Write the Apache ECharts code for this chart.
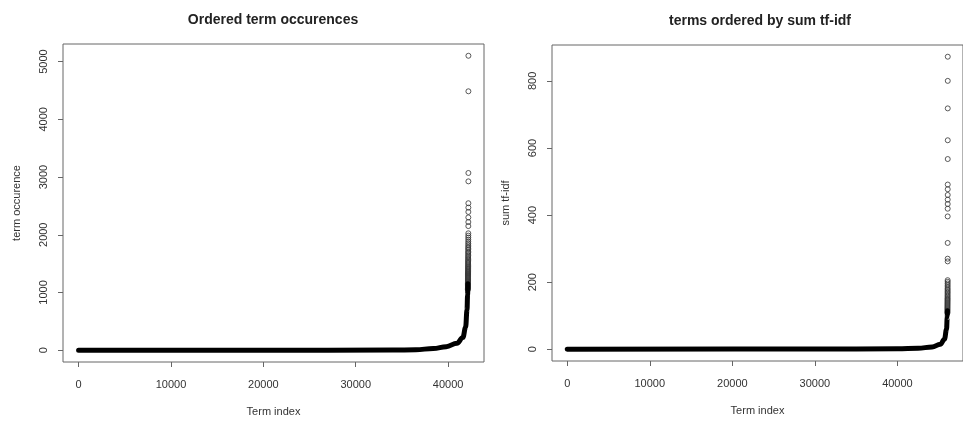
<!DOCTYPE html>
<html>
<head>
<meta charset="utf-8">
<script src="https://cdn.jsdelivr.net/npm/echarts@6/dist/echarts.min.js"></script>
<style>
html,body{margin:0;padding:0;background:#fff;}
#c{width:963px;height:423px;}
</style>
</head>
<body>
<div id="c"></div>
<script>
// ---- data ----
const leftTitle = 'Ordered term occurences';
const rightTitle = 'terms ordered by sum tf-idf';
const xTitle = 'Term index';
const leftYTitle = 'term occurence';
const rightYTitle = 'sum tf-idf';

const leftNTerms = 42200;
const rightNTerms = 46100;

const leftXTicks = [0, 10000, 20000, 30000, 40000];
const leftYTicks = [0, 1000, 2000, 3000, 4000, 5000];
const rightXTicks = [0, 10000, 20000, 30000, 40000];
const rightYTicks = [0, 200, 400, 600, 800];

// dense part of the ordered curve: [term index, value]
const leftCurve = [[1,1],[20000,1],[34000,2],[36500,8],[38400,30],[39800,62],[40970,122],[41600,220],[41900,400],[42050,700],[42110,950],[42140,1150]];
const rightCurve = [[1,0.5],[30000,1],[40000,1.5],[42500,3],[44200,7],[45200,15],[45700,30],[45950,60],[46030,95],[46060,115]];

// individually visible top values (largest first)
const leftTail = [5100, 4485, 3070, 2925, 2546, 2470, 2395, 2300, 2220, 2150, 2025, 1985, 1950, 1915, 1880, 1850, 1820, 1790, 1765, 1740, 1710, 1690, 1665, 1640, 1615, 1595, 1570, 1550, 1530, 1510, 1490, 1470, 1450, 1435, 1415, 1400, 1380, 1365, 1350, 1335, 1320, 1305, 1290, 1275, 1260, 1245, 1230, 1215, 1200, 1185, 1170, 1155, 1140, 1125, 1110, 1095, 1080, 1065, 1050];
const rightTail = [872, 800, 718, 623, 567, 491, 477, 460, 446, 433, 419, 396, 317, 270, 262, 206, 201, 196, 191, 186, 181, 177, 173, 169, 165, 161, 157, 153, 150, 147, 144, 141, 138, 135, 132, 129, 126, 123, 120, 117, 114, 111, 108];

// ---- chart ----
function rangeOf(lo, hi){ const d = hi - lo; return [lo - 0.04*d, hi + 0.04*d]; }
const lx = rangeOf(1, leftNTerms), rx = rangeOf(1, rightNTerms);
const ly = rangeOf(0, Math.max(...leftTail)), ry = rangeOf(0, Math.max(...rightTail));
const tailPts = (vals, n) => vals.map((v, i) => [n - i, v]);

const FONT = 'Liberation Sans, Arial, sans-serif';
const boxC = '#666', txtC = '#333';
const plain = v => String(Math.round(v));

function xAx(idx, rng, ticks){
  return {
    type:'value', gridIndex: idx, min: rng[0], max: rng[1],
    name: xTitle, nameLocation:'middle', nameGap: 44,
    nameTextStyle:{fontFamily:FONT, fontSize:11, color:txtC},
    axisLine:{show:false, onZero:false}, splitLine:{show:false},
    axisTick:{show:true, length:5, inside:false, customValues: ticks, lineStyle:{color:boxC}},
    axisLabel:{customValues: ticks, formatter: plain, margin:17, fontFamily:FONT, fontSize:11, color:txtC}
  };
}
function yAx(idx, rng, ticks, name, gap){
  return {
    type:'value', gridIndex: idx, min: rng[0], max: rng[1],
    name: name, nameLocation:'middle', nameGap: gap,
    nameTextStyle:{fontFamily:FONT, fontSize:11, color:txtC},
    axisLine:{show:false, onZero:false}, splitLine:{show:false},
    axisTick:{show:true, length:5, inside:false, customValues: ticks, lineStyle:{color:boxC}},
    axisLabel:{customValues: ticks, formatter: plain, rotate:90, margin:14, fontFamily:FONT, fontSize:11, color:txtC}
  };
}
function curveSeries(idx, data){
  return {type:'line', xAxisIndex:idx, yAxisIndex:idx, data:data, showSymbol:false,
    smooth:0.4, smoothMonotone:'x', lineStyle:{color:'#000', width:5, cap:'round', join:'round'}, silent:true, animation:false};
}
function tailSeries(idx, data){
  return {type:'scatter', xAxisIndex:idx, yAxisIndex:idx, data:data, symbol:'circle', symbolSize:5,
    itemStyle:{color:'rgba(0,0,0,0)', borderColor:'#333', borderWidth:1}, silent:true, animation:false};
}

const chart = echarts.init(document.getElementById('c'));
chart.setOption({
  backgroundColor:'#fff',
  animation:false,
  title:[
    {text:leftTitle, left:268, top:8, textAlign:'center', textStyle:{fontFamily:FONT, fontSize:14, fontWeight:'bold', color:'#222'}},
    {text:rightTitle, left:755, top:9, textAlign:'center', textStyle:{fontFamily:FONT, fontSize:14, fontWeight:'bold', color:'#222'}}
  ],
  grid:[
    {left:63, top:44, width:421, height:318, show:true, borderColor:boxC, borderWidth:1, backgroundColor:'transparent'},
    {left:552, top:45, width:416, height:316, show:true, borderColor:boxC, borderWidth:1, backgroundColor:'transparent'}
  ],
  xAxis:[xAx(0, lx, leftXTicks), xAx(1, rx, rightXTicks)],
  yAxis:[yAx(0, ly, leftYTicks, leftYTitle, 41), yAx(1, ry, rightYTicks, rightYTitle, 41)],
  series:[
    curveSeries(0, leftCurve), tailSeries(0, tailPts(leftTail, leftNTerms)),
    curveSeries(1, rightCurve), tailSeries(1, tailPts(rightTail, rightNTerms))
  ]
});
</script>
</body>
</html>
